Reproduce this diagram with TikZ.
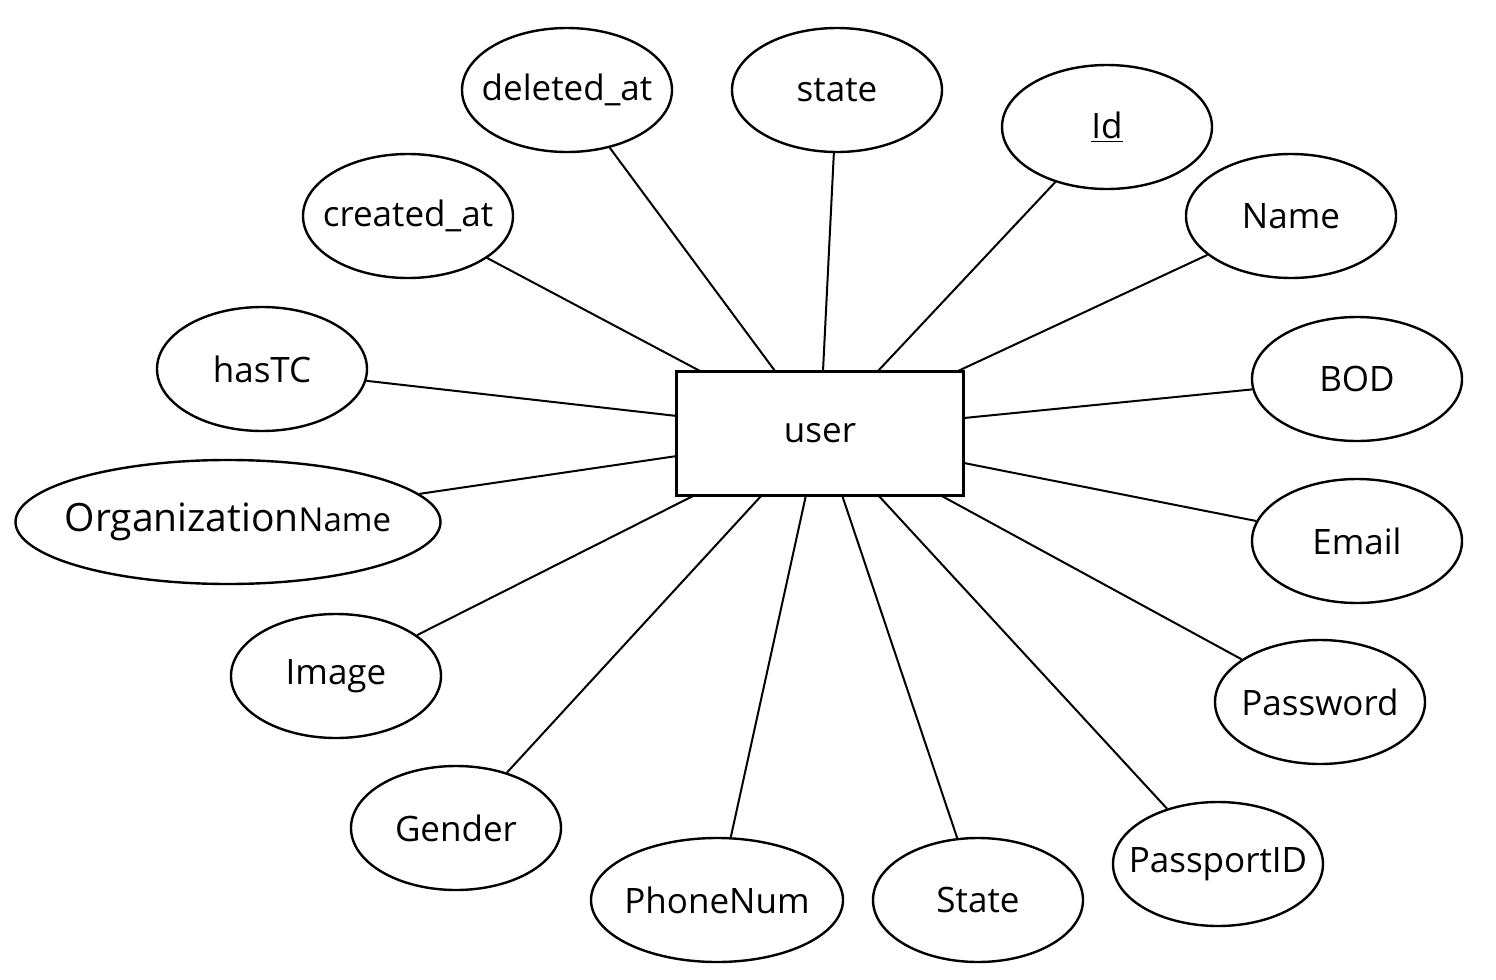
\documentclass[tikz,border=0pt]{standalone}
\usepackage{fontspec}
\setmainfont{Open Sans}
\usetikzlibrary{shapes.geometric}
\begin{document}
\begin{tikzpicture}[x=0.5pt, y=-0.5pt, line width=1pt,
  attr node/.style={ellipse,draw,line width=1.2pt,minimum width=105pt,minimum height=62pt,inner xsep=-30pt,inner ysep=0pt,font=\fontsize{17.5}{20}\selectfont},
  entity node/.style={rectangle,draw,line width=1.5pt,minimum width=143.5pt,minimum height=62pt,inner sep=0pt,font=\fontsize{17.5}{20}\selectfont}]
\useasboundingbox (0,0) rectangle (1496,980);
\node [entity node](user) at (820,433) {user};
\begin{scope}[every node/.style={attr node}]
\node (deleted) at (567,90) {deleted\_at};
\node (state) at (837,90) {state};
\node (id) at (1107,127) {\underline{Id}};
\node (name) at (1291,216) {Name};
\node (created) at (408,216) {created\_at};
\node (hastc) at (262,369) {hasTC};
\node (bod) at (1357,379) {BOD};
\node [minimum width=212.5pt,inner xsep=-60pt] (org) at (228,522) {{\fontsize{19.5}{20}\selectfont Organization}{\fontsize{16.5}{20}\selectfont Name}};
\node (email) at (1357,541) {Email};
\node (image) at (336,676) {Image};
\node (password) at (1320,702) {Password};
\node (gender) at (456,828) {Gender};
\node (passport) at (1218,864) {PassportID};
\node [minimum width=126pt] (phone) at (717,900) {PhoneNum};
\node (statebig) at (978,900) {State};
\end{scope}
% attachment points on the user box
\coordinate (u1) at (775,371);
\coordinate (u2) at (823,371);
\coordinate (u3) at (878,371);
\coordinate (u4) at (958,371);
\coordinate (u5) at (700,371);
\coordinate (u6) at (677,416);
\coordinate (u7) at (964,418);
\coordinate (u8) at (677,456);
\coordinate (u9) at (964,463);
\coordinate (u10) at (695,495);
\coordinate (u11) at (940,495);
\coordinate (u12) at (762,495);
\coordinate (u13) at (878,495);
\coordinate (u14) at (806,495);
\coordinate (u15) at (842,495);
\draw (deleted) -- (u1);
\draw (state) -- (u2);
\draw (id) -- (u3);
\draw (name) -- (u4);
\draw (created) -- (u5);
\draw (hastc) -- (u6);
\draw (bod) -- (u7);
\draw (org) -- (u8);
\draw (email) -- (u9);
\draw (image) -- (u10);
\draw (password) -- (u11);
\draw (gender) -- (u12);
\draw (passport) -- (u13);
\draw (phone) -- (u14);
\draw (statebig) -- (u15);
\end{tikzpicture}
\end{document}
